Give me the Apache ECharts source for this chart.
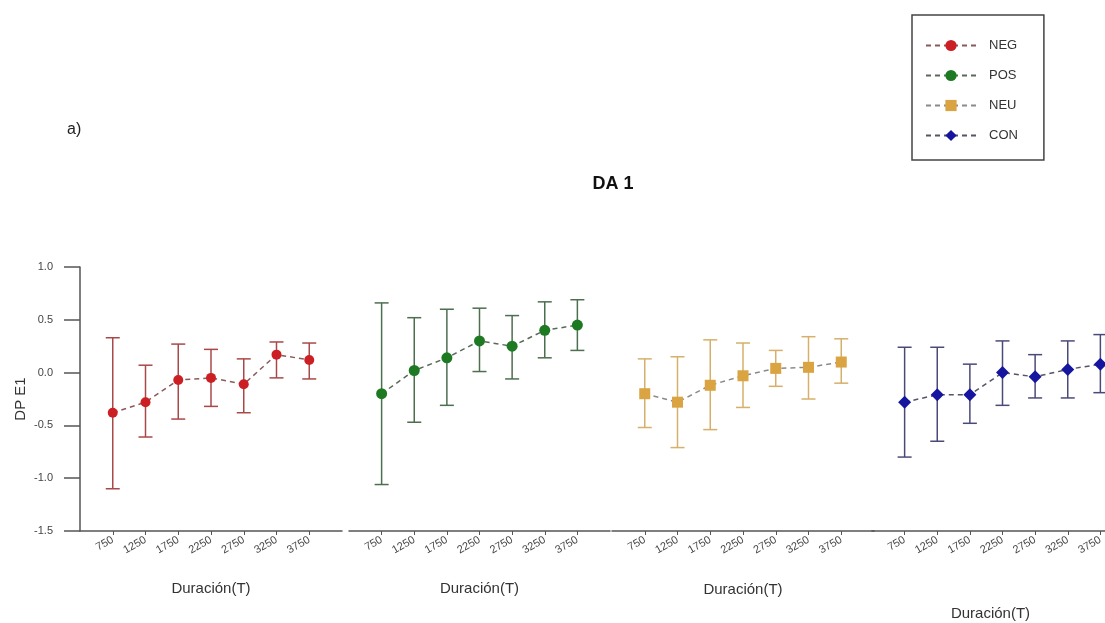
<!DOCTYPE html>
<html>
<head>
<meta charset="utf-8">
<script src="https://cdn.jsdelivr.net/npm/echarts@6/dist/echarts.min.js"></script>
<style>html,body{margin:0;padding:0;background:#fff;overflow:hidden;width:1105px;height:623px;}#c{width:1140px;height:623px;}</style>
</head>
<body>
<div id="c"></div>
<script>
var durations = [750, 1250, 1750, 2250, 2750, 3250, 3750];
var yTicks = [-1.5, -1.0, -0.5, 0.0, 0.5, 1.0];

var negMean  = [-0.38, -0.28, -0.07, -0.05, -0.11, 0.17, 0.12];
var negUpper = [0.33, 0.07, 0.27, 0.22, 0.13, 0.29, 0.28];
var negLower = [-1.10, -0.61, -0.44, -0.32, -0.38, -0.05, -0.06];

var posMean  = [-0.20, 0.02, 0.14, 0.30, 0.25, 0.40, 0.45];
var posUpper = [0.66, 0.52, 0.60, 0.61, 0.54, 0.67, 0.69];
var posLower = [-1.06, -0.47, -0.31, 0.01, -0.06, 0.14, 0.21];

var neuMean  = [-0.20, -0.28, -0.12, -0.03, 0.04, 0.05, 0.10];
var neuUpper = [0.13, 0.15, 0.31, 0.28, 0.21, 0.34, 0.32];
var neuLower = [-0.52, -0.71, -0.54, -0.33, -0.13, -0.25, -0.10];

var conMean  = [-0.28, -0.21, -0.21, 0.00, -0.04, 0.03, 0.08];
var conUpper = [0.24, 0.24, 0.08, 0.30, 0.17, 0.30, 0.36];
var conLower = [-0.80, -0.65, -0.48, -0.31, -0.24, -0.24, -0.19];

var groups = [
  {name: 'NEG', color: '#cc1f24', bar: '#a94848', line: '#8a5a5a', symbol: 'circle', size: 10, mean: negMean, up: negUpper, lo: negLower},
  {name: 'POS', color: '#1e7a22', bar: '#4d6e4f', line: '#5a6a5a', symbol: 'circle', size: 11, mean: posMean, up: posUpper, lo: posLower},
  {name: 'NEU', color: '#d9a441', bar: '#d6b06a', line: '#8a8a8a', symbol: 'rect', size: 11, mean: neuMean, up: neuUpper, lo: neuLower},
  {name: 'CON', color: '#1515a0', bar: '#4a4a7a', line: '#555566', symbol: 'diamond', size: 13, mean: conMean, up: conUpper, lo: conLower}
];

var gridLefts = [80, 349, 612, 872];
var gridWidths = [262, 261, 262, 261];
var nameGaps = [50, 50, 51, 75];
var namePads = [[0, 0, 0, 0], [0, 0, 0, 0], [0, 0, 0, 0], [0, 24, 0, 0]];
var grids = [], xAxes = [], yAxes = [], series = [];
groups.forEach(function (g, i) {
  grids.push({left: gridLefts[i], width: gridWidths[i], top: 267, height: 264});
  xAxes.push({
    type: 'value', gridIndex: i, min: 250, max: 4250,
    name: 'Duración(T)', nameLocation: 'middle', nameGap: nameGaps[i],
    nameTextStyle: {fontSize: 15, color: '#333', fontFamily: 'Liberation Sans', padding: namePads[i]},
    axisLine: {show: true, onZero: false, lineStyle: {color: '#555', width: 1.5}},
    axisTick: {show: true, customValues: durations, length: 4, lineStyle: {color: '#555'}},
    axisLabel: {customValues: durations, rotate: 30, fontSize: 11, color: '#444', margin: 8,
      fontFamily: 'Liberation Sans', formatter: function (v) { return String(v); }},
    splitLine: {show: false}
  });
  yAxes.push({
    type: 'value', gridIndex: i, min: -1.5, max: 1.0, interval: 0.5,
    show: i === 0,
    name: i === 0 ? 'DP E1' : '', nameLocation: 'middle', nameGap: 52, nameRotate: 90,
    nameTextStyle: {fontSize: 15, color: '#333', fontFamily: 'Liberation Sans'},
    axisLine: {show: true, lineStyle: {color: '#555', width: 1.5}},
    axisTick: {show: true, length: 16, lineStyle: {color: '#555', width: 1.5}},
    axisLabel: {fontSize: 11, color: '#444', margin: 27, fontFamily: 'Liberation Sans',
      formatter: function (v) { return v.toFixed(1); }},
    splitLine: {show: false}
  });
  var errData = durations.map(function (d, k) { return [d, g.lo[k], g.up[k]]; });
  series.push({
    type: 'custom', name: g.name + '_err', xAxisIndex: i, yAxisIndex: i,
    data: errData, z: 1, clip: false,
    renderItem: function (params, api) {
      var x = api.value(0);
      var lo = api.coord([x, api.value(1)]);
      var hi = api.coord([x, api.value(2)]);
      var hw = 7;
      var st = {stroke: g.bar, lineWidth: 1.5};
      return {type: 'group', children: [
        {type: 'line', shape: {x1: lo[0], y1: lo[1], x2: hi[0], y2: hi[1]}, style: st},
        {type: 'line', shape: {x1: lo[0] - hw, y1: lo[1], x2: lo[0] + hw, y2: lo[1]}, style: st},
        {type: 'line', shape: {x1: hi[0] - hw, y1: hi[1], x2: hi[0] + hw, y2: hi[1]}, style: st}
      ]};
    }
  });
  series.push({
    type: 'line', name: g.name, xAxisIndex: i, yAxisIndex: i, z: 3,
    data: durations.map(function (d, k) { return [d, g.mean[k]]; }),
    symbol: g.symbol, symbolSize: g.size,
    itemStyle: {color: g.color},
    lineStyle: {color: g.line, type: [5, 4], width: 1.5},
    emphasis: {disabled: true}
  });
});

var chart = echarts.init(document.getElementById('c'));
chart.setOption({
  animation: false,
  backgroundColor: '#fff',
  title: [
    {text: 'DA 1', left: 608, top: 170, textAlign: 'center',
      textStyle: {fontSize: 18, fontWeight: 'bold', color: '#111', fontFamily: 'Liberation Sans'}},
    {text: 'a)', left: 62, top: 117,
      textStyle: {fontSize: 16, fontWeight: 'normal', color: '#222', fontFamily: 'Liberation Sans'}}
  ],
  legend: {
    data: ['NEG', 'POS', 'NEU', 'CON'],
    orient: 'vertical', left: 912, top: 15,
    padding: [24, 26, 18, 13], itemGap: 17, itemWidth: 50, itemHeight: 14,
    borderColor: '#444', borderWidth: 1.5,
    textStyle: {fontSize: 13, color: '#333', fontFamily: 'Liberation Sans', padding: [0, 0, 0, 8]}
  },
  grid: grids, xAxis: xAxes, yAxis: yAxes, series: series
});
</script>
</body>
</html>
